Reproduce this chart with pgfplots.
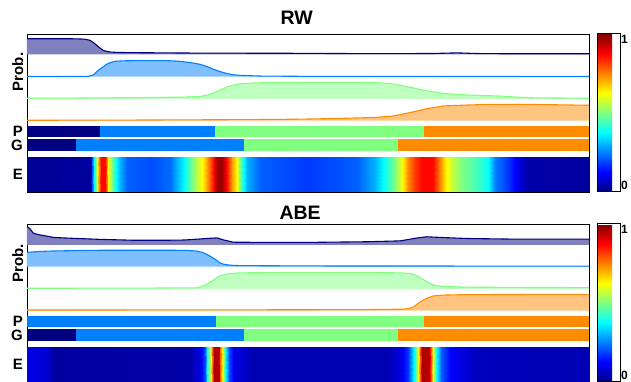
\documentclass[border=0pt]{standalone}
\usepackage{pgfplots}
\pgfplotsset{compat=1.18}
\usepackage{pgfplotstable}
\usepackage{fontspec}
\setmainfont{Liberation Sans}
\definecolor{cA}{RGB}{0,0,128}
\definecolor{cB}{RGB}{0,128,255}
\definecolor{cC}{RGB}{128,255,128}
\definecolor{cD}{RGB}{255,140,0}

% ---------- RW probability rows ----------
\pgfplotstableread{
x v
0 0.72
8 0.72
9.5 0.71
10.3 0.70
11.2 0.65
11.8 0.55
12.4 0.42
13.0 0.29
13.6 0.18
14.2 0.14
14.8 0.11
16 0.09
18.9 0.08
30 0.06
48 0.05
60 0.035
72 0.04
76.5 0.07
80 0.04
85 0.03
100 0.03
}\rwA
\pgfplotstableread{
x v
0 0.01
10 0.012
11 0.02
11.8 0.08
12.4 0.23
13.0 0.36
13.6 0.46
14.2 0.58
14.8 0.65
15.7 0.71
17 0.73
18.9 0.74
24.8 0.74
26.5 0.72
27.8 0.69
29.3 0.64
30.8 0.57
32 0.47
33.1 0.35
34.3 0.24
35.5 0.15
36.7 0.09
37.9 0.06
41.5 0.03
50 0.015
100 0.01
}\rwB
\pgfplotstableread{
x v
0 0.03
10 0.04
20 0.06
27.8 0.08
30.8 0.11
32 0.17
33.1 0.26
34.3 0.40
35.5 0.54
36.7 0.63
37.9 0.69
40 0.73
42.6 0.75
50 0.76
58 0.76
62.2 0.75
65.2 0.69
68.1 0.54
71.1 0.37
74.1 0.25
78.2 0.18
84.2 0.13
88 0.07
90.1 0.05
100 0.03
}\rwC
\pgfplotstableread{
x v
0 0.02
20 0.03
40 0.05
48.6 0.07
55 0.1
62 0.15
65.2 0.22
68.1 0.37
71.1 0.55
74.1 0.68
78.2 0.72
82 0.75
90 0.75
95 0.73
100 0.71
}\rwD

% ---------- ABE probability rows ----------
\pgfplotstableread{
x v
0 0.84
0.5 0.75
1.1 0.54
2 0.47
2.9 0.43
4.7 0.34
7.1 0.31
10 0.28
13 0.25
18.9 0.21
25 0.21
28 0.22
31.4 0.28
33.8 0.32
34.9 0.23
36.7 0.12
42.6 0.11
50 0.11
60.4 0.14
66.4 0.18
69.3 0.31
71.1 0.37
73.5 0.34
78.2 0.29
87.1 0.26
100 0.26
}\abA
\pgfplotstableread{
x v
0 0.66
2 0.70
4.1 0.72
10 0.75
15 0.76
25 0.76
28.5 0.75
30.2 0.72
31.2 0.66
32 0.57
32.6 0.48
33.2 0.39
33.8 0.28
34.3 0.18
34.9 0.12
35.5 0.09
36.7 0.06
37.9 0.05
50 0.035
100 0.025
}\abB
\pgfplotstableread{
x v
0 0.03
20 0.035
30.2 0.05
31.2 0.12
32 0.22
32.6 0.31
33.2 0.41
34.3 0.60
35.5 0.69
37.9 0.74
45 0.75
60 0.75
66.5 0.74
68.1 0.71
68.7 0.68
69.3 0.61
69.9 0.52
70.5 0.43
71.1 0.34
72.3 0.18
74.1 0.11
78.2 0.08
90 0.065
100 0.06
}\abC
\pgfplotstableread{
x v
0 0.03
40 0.04
60 0.05
67 0.07
68.1 0.11
68.7 0.17
69.3 0.28
69.9 0.39
70.5 0.48
71.1 0.57
72.3 0.68
74.1 0.72
78.2 0.74
90 0.75
100 0.75
}\abD

\newcommand\probrow[3]{%
  \addplot[fill=#3!50!white, draw=none] table[x=x, y expr={#2+21.7*\thisrow{v}}] {#1}
     -- (axis cs:100,#2) -- (axis cs:0,#2) -- cycle;
  \addplot[draw=#3, line width=1.1pt] table[x=x, y expr={#2+21.7*\thisrow{v}}] {#1};
}
\newcommand\seg[5]{%
  \addplot[fill=#5, draw=none] coordinates {(#1,#3) (#2,#3) (#2,#4) (#1,#4)} -- cycle;
}

\pgfplotsset{
  colorbar shift/.style={xshift=8.5pt},
  panel/.style={
    scale only axis, width=562pt, height=158pt,
    xmin=0, xmax=100, ymin=0, ymax=158,
    xtick=\empty, ytick=\empty,
    clip mode=individual,
    axis line style={line width=0.8pt},
    colormap/jet, point meta min=0, point meta max=1,
    colorbar,
    colorbar style={
      width=22.5pt,
      ytick={0.045,0.965}, yticklabels={\textbf{0},\textbf{1}},
      major tick length=0pt,
      yticklabel style={font=\fontsize{12}{12}\selectfont, inner sep=0.5pt},
      axis line style={line width=1pt},
    },
  },
}
\tikzset{
  lab/.style={font=\bfseries\fontsize{15}{15}\selectfont, inner sep=0pt},
  ttl/.style={font=\bfseries\fontsize{19.5}{20}\selectfont, inner sep=0pt, anchor=base},
}

\begin{document}
\begin{tikzpicture}

% ================= RW =================
\begin{axis}[panel, at={(27pt,190pt)}, anchor=south west]
  \probrow{\rwA}{137.6}{cA}
  \probrow{\rwB}{115.3}{cB}
  \probrow{\rwC}{93.1}{cC}
  \probrow{\rwD}{71.3}{cD}
  % P
  \seg{0}{13.0}{55}{65.5}{cA}
  \seg{13.0}{33.5}{55}{65.5}{cB}
  \seg{33.5}{70.7}{55}{65.5}{cC}
  \seg{70.7}{100}{55}{65.5}{cD}
  % G
  \seg{0}{8.7}{41}{52.5}{cA}
  \seg{8.7}{38.6}{41}{52.5}{cB}
  \seg{38.6}{66.1}{41}{52.5}{cC}
  \seg{66.1}{100}{41}{52.5}{cD}
  % E
  \addplot[surf, shader=interp, mesh/rows=2, mesh/ordering=y varies, point meta=explicit]
    table[x=x, y=y, meta=v] {
x y v
0 0 0.02
0 35 0.02
11.2 0 0.03
11.2 35 0.03
11.6 0 0.2
11.6 35 0.2
11.9 0 0.38
11.9 35 0.38
12.2 0 0.5
12.2 35 0.5
12.5 0 0.62
12.5 35 0.62
12.8 0 0.75
12.8 35 0.75
13.2 0 0.87
13.2 35 0.87
13.9 0 0.87
13.9 35 0.87
14.2 0 0.75
14.2 35 0.75
14.5 0 0.62
14.5 35 0.62
15.1 0 0.5
15.1 35 0.5
15.7 0 0.4
15.7 35 0.4
16.6 0 0.3
16.6 35 0.3
17.8 0 0.22
17.8 35 0.22
22 0 0.2
22 35 0.2
25.5 0 0.23
25.5 35 0.23
26.7 0 0.3
26.7 35 0.3
27.9 0 0.37
27.9 35 0.37
29.1 0 0.48
29.1 35 0.48
30.2 0 0.56
30.2 35 0.56
31.4 0 0.64
31.4 35 0.64
32.3 0 0.76
32.3 35 0.76
33.2 0 0.88
33.2 35 0.88
33.8 0 0.97
33.8 35 0.97
34.7 0 0.97
34.7 35 0.97
35.6 0 0.86
35.6 35 0.86
36.5 0 0.72
36.5 35 0.72
37.4 0 0.62
37.4 35 0.62
38.3 0 0.42
38.3 35 0.42
39.1 0 0.3
39.1 35 0.3
41.5 0 0.22
41.5 35 0.22
50 0 0.18
50 35 0.18
58.9 0 0.22
58.9 35 0.22
61.9 0 0.3
61.9 35 0.3
63.6 0 0.38
63.6 35 0.38
65.4 0 0.5
65.4 35 0.5
66.6 0 0.6
66.6 35 0.6
67.8 0 0.74
67.8 35 0.74
69 0 0.82
69 35 0.82
70.2 0 0.87
70.2 35 0.87
72.2 0 0.87
72.2 35 0.87
73.1 0 0.78
73.1 35 0.78
74.3 0 0.65
74.3 35 0.65
75.5 0 0.58
75.5 35 0.58
77.3 0 0.5
77.3 35 0.5
79.7 0 0.45
79.7 35 0.45
82 0 0.38
82 35 0.38
83.2 0 0.25
83.2 35 0.25
85.6 0 0.18
85.6 35 0.18
87.4 0 0.1
87.4 35 0.1
89.1 0 0.04
89.1 35 0.04
100 0 0.03
100 35 0.03
};
  \node[ttl] at (axis cs:48,167) {RW};
  \node[lab, xshift=-3.5pt, rotate=90, anchor=south] at (axis cs:0,120) {Prob.};
  \node[lab, anchor=east, xshift=-4pt] at (axis cs:0,60.3) {P};
  \node[lab, anchor=east, xshift=-4pt] at (axis cs:0,46.8) {G};
  \node[lab, anchor=east, xshift=-4pt] at (axis cs:0,17.5) {E};
\end{axis}

% ================= ABE =================
\begin{axis}[panel, at={(27pt,0pt)}, anchor=south west]
  \probrow{\abA}{137.2}{cA}
  \probrow{\abB}{115.3}{cB}
  \probrow{\abC}{93.1}{cC}
  \probrow{\abD}{71.3}{cD}
  % P
  \seg{0}{33.7}{55}{65.5}{cB}
  \seg{33.7}{70.7}{55}{65.5}{cC}
  \seg{70.7}{100}{55}{65.5}{cD}
  % G
  \seg{0}{8.7}{41}{52.5}{cA}
  \seg{8.7}{38.6}{41}{52.5}{cB}
  \seg{38.6}{66.1}{41}{52.5}{cC}
  \seg{66.1}{100}{41}{52.5}{cD}
  % E
  \addplot[surf, shader=interp, mesh/rows=2, mesh/ordering=y varies, point meta=explicit]
    table[x=x, y=y, meta=v] {
x y v
0 0 0.1
0 35 0.1
3.6 0 0.08
3.6 35 0.08
5 0 0.03
5 35 0.03
29 0 0.04
29 35 0.04
30.8 0 0.1
30.8 35 0.1
31.7 0 0.2
31.7 35 0.2
32 0 0.38
32 35 0.38
32.5 0 0.55
32.5 35 0.55
32.9 0 0.75
32.9 35 0.75
33.2 0 0.95
33.2 35 0.95
34.1 0 0.95
34.1 35 0.95
34.4 0 0.78
34.4 35 0.78
34.9 0 0.58
34.9 35 0.58
35.3 0 0.4
35.3 35 0.4
35.9 0 0.2
35.9 35 0.2
36.8 0 0.1
36.8 35 0.1
40 0 0.05
40 35 0.05
64.2 0 0.05
64.2 35 0.05
66.6 0 0.1
66.6 35 0.1
67.8 0 0.18
67.8 35 0.18
68.9 0 0.38
68.9 35 0.38
69.5 0 0.6
69.5 35 0.6
69.9 0 0.78
69.9 35 0.78
70.2 0 0.95
70.2 35 0.95
71.5 0 0.95
71.5 35 0.95
71.8 0 0.78
71.8 35 0.78
72.2 0 0.62
72.2 35 0.62
72.8 0 0.4
72.8 35 0.4
73.7 0 0.22
73.7 35 0.22
75.5 0 0.12
75.5 35 0.12
80 0 0.06
80 35 0.06
100 0 0.05
100 35 0.05
};
  \node[ttl] at (axis cs:48.6,162) {ABE};
  \node[lab, xshift=-3.5pt, rotate=90, anchor=south] at (axis cs:0,118.5) {Prob.};
  \node[lab, anchor=east, xshift=-4pt] at (axis cs:0,60.3) {P};
  \node[lab, anchor=east, xshift=-4pt] at (axis cs:0,46.5) {G};
  \node[lab, anchor=east, xshift=-4pt] at (axis cs:0,17.5) {E};
\end{axis}
\pgfresetboundingbox
\useasboundingbox (0,0) rectangle (631pt,382pt);
\end{tikzpicture}
\end{document}
